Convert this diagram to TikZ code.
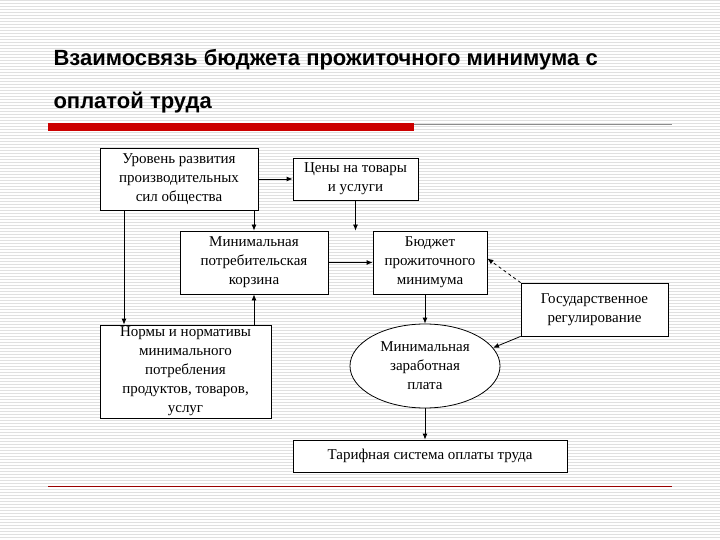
\documentclass[tikz,border=0pt]{standalone}
\usepackage{fontspec}
\setmainfont{Liberation Serif}
\newfontfamily\titlefont{Liberation Sans}
\usetikzlibrary{shapes.geometric,arrows.meta}
\begin{document}
\begin{tikzpicture}[x=1pt,y=-1pt,
  bx/.style={draw,fill=white,line width=0.8pt,inner sep=0pt,align=center,font=\fontsize{15}{19}\selectfont},
  arr/.style={-{Latex[length=6pt,width=5pt]},line width=0.8pt}]
\useasboundingbox (0,0) rectangle (720,540);
\fill[white] (0,0) rectangle (720,540);
\foreach \y in {0,3,...,540} \draw[black!12,line width=0.6pt] (0,\y) -- (720,\y);
\node[anchor=west,font=\titlefont\bfseries\fontsize{22}{26}\selectfont] (t1) at (50,60) {Взаимосвязь бюджета прожиточного минимума с};
\node[anchor=west,font=\titlefont\bfseries\fontsize{22}{26}\selectfont] (t2) at (50,103) {оплатой труда};
\draw[black!45,line width=0.7pt] (48,124) -- (672,124);
\fill[red!80!black] (48,123) rectangle (414,131);
\draw[red!60!black,line width=0.7pt] (48,486) -- (672,486);

\node[bx,minimum width=158,minimum height=62] (A) at (179,179) {Уровень развития\\производительных\\сил общества};
\node[bx,minimum width=125,minimum height=42] (B) at (355.5,179) {Цены на товары\\и услуги};
\node[bx,minimum width=148,minimum height=63] (C) at (254,262.5) {Минимальная\\потребительская\\корзина};
\node[bx,minimum width=114,minimum height=63] (D) at (430,262.5) {Бюджет\\прожиточного\\минимума};
\node[bx,minimum width=147,minimum height=53] (E) at (594.5,309.5) {Государственное\\регулирование};
\node[bx,ellipse,minimum width=150,minimum height=84] (F) at (425,366) {Минимальная\\заработная\\плата};
\node[bx,minimum width=171,minimum height=93] (G) at (185.5,371.5) {Нормы и нормативы\\минимального\\потребления\\продуктов, товаров,\\услуг};
\node[bx,minimum width=274,minimum height=32] (H) at (430,456) {Тарифная система оплаты труда};

\draw[arr] (A.east) -- (B.west);
\draw[arr] (A.south -| C.north) -- (C.north);
\draw[arr] (B.south) -- (B.south |- D.north);
\draw[arr] ([xshift=-55pt]A.south) -- ([xshift=-61.5pt]G.north);
\draw[arr] (G.north -| C.south) -- (C.south);
\draw[arr] (C.east) -- (D.west);
\draw[arr] (D.south -| F.north) -- (F.north);
\draw[arr,dashed] (E.north west) -- ([yshift=4pt]D.east);
\draw[arr] (E.south west) -- (F.15);
\draw[arr] (F.south) -- (F.south |- H.north);
\end{tikzpicture}
\end{document}
